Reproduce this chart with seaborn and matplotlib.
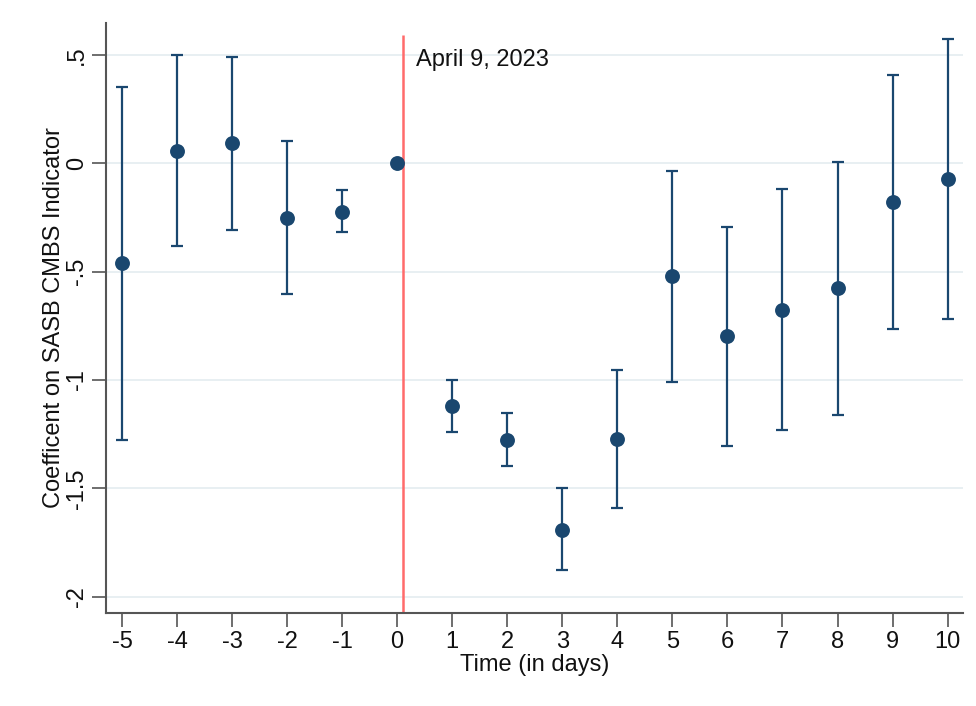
import numpy as np
import pandas as pd
import matplotlib
matplotlib.use("Agg")
import matplotlib.pyplot as plt
import seaborn as sns

days = [-5, -4, -3, -2, -1, 0, 1, 2, 3, 4, 5, 6, 7, 8, 9, 10]
coef = [-0.462, 0.058, 0.092, -0.251, -0.223, 0.0, -1.120, -1.275, -1.692, -1.271,
        -0.520, -0.797, -0.675, -0.577, -0.180, -0.074]
ci_low = [-1.275, -0.382, -0.306, -0.605, -0.318, 0.0, -1.238, -1.397, -1.878, -1.589,
          -1.008, -1.304, -1.229, -1.163, -0.765, -0.719]
ci_high = [0.354, 0.501, 0.490, 0.103, -0.125, 0.0, -1.000, -1.152, -1.500, -0.952,
           -0.034, -0.294, -0.117, 0.008, 0.406, 0.571]
ytick_vals = [0.5, 0, -0.5, -1, -1.5, -2]
ytick_labels = [".5", "0", "-.5", "-1", "-1.5", "-2"]
event_x = 0.11
event_label = "April 9, 2023"

df = pd.DataFrame({"day": days, "coef": coef, "lo": ci_low, "hi": ci_high})

sns.set_theme(style="white")
plt.rcParams["font.family"] = ["Liberation Sans", "DejaVu Sans"]

navy = "#1a476f"
fs = 17
fig = plt.figure(figsize=(9.76, 7.06), dpi=100)
ax = fig.add_axes([106 / 976, 1 - 613 / 706, (963 - 106) / 976, (613 - 23) / 706])

# gridlines
for v in ytick_vals:
    ax.axhline(v, color="#e6eef1", lw=1.3, zorder=0)

# confidence intervals (skip reference period)
ci = df[df["day"] != 0]
ax.errorbar(ci["day"], ci["coef"], yerr=[ci["coef"] - ci["lo"], ci["hi"] - ci["coef"]],
            fmt="none", ecolor=navy, elinewidth=1.6, capsize=4.5, capthick=1.6, zorder=2)

sns.scatterplot(data=df, x="day", y="coef", color=navy, s=115, edgecolor=navy,
                linewidth=0, ax=ax, zorder=3)

ax.vlines(event_x, -2.075, 0.59, color="#ff6b6b", lw=1.8, zorder=1)
ax.text(event_x + 0.23, 0.475, event_label, fontsize=fs, color="#111111", va="center", ha="left")

ax.set_xlim(-5.29, 10.28)
ax.set_ylim(-2.075, 0.647)
ax.set_xticks(days)
ax.set_xticklabels([str(d) for d in days])
ax.set_yticks(ytick_vals)
ax.set_yticklabels(ytick_labels, rotation=90, va="center")
ax.tick_params(axis="both", which="both", direction="out", length=10, width=1.2,
               color="#555555", labelsize=fs, labelcolor="#111111", pad=3,
               left=True, bottom=True)
ax.set_xlabel("Time (in days)", fontsize=fs, color="#111111", labelpad=1)
ax.set_ylabel("Coefficent on SASB CMBS Indicator", fontsize=fs, color="#111111", labelpad=1)

for s in ["top", "right"]:
    ax.spines[s].set_visible(False)
for s in ["left", "bottom"]:
    ax.spines[s].set_color("#555555")
    ax.spines[s].set_linewidth(1.5)

fig.savefig("out.png", dpi=100, facecolor="white")
